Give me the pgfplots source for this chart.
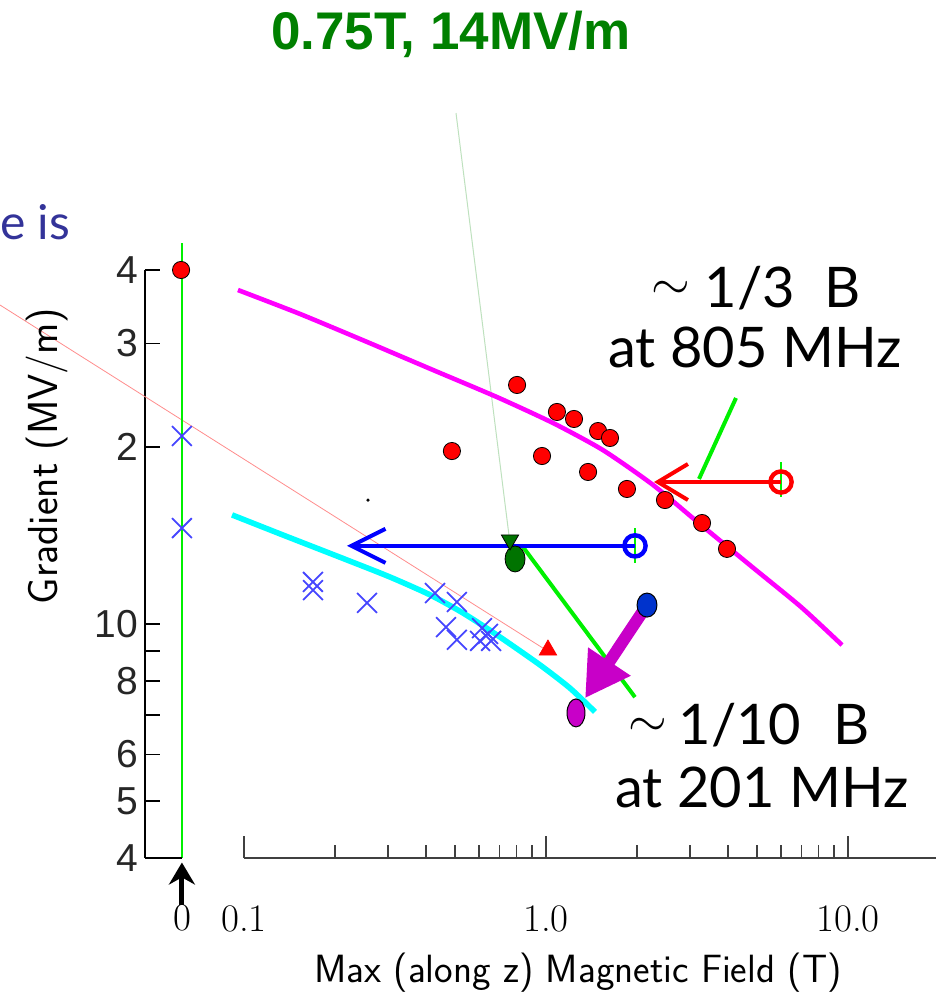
\documentclass[border=0pt]{standalone}
\usepackage{pgfplots}
\pgfplotsset{compat=1.18}
\usetikzlibrary{arrows.meta}
\usepackage{fontspec}
\newfontfamily\libsans{Liberation Sans}
\newfontfamily\lato{Lato}
\definecolor{magC}{RGB}{255,0,255}
\definecolor{cyaC}{RGB}{0,255,255}
\definecolor{grnC}{RGB}{0,240,0}
\definecolor{dgrnC}{RGB}{0,115,0}
\definecolor{bluC}{RGB}{0,0,255}
\definecolor{crossC}{RGB}{70,70,255}
\definecolor{purC}{RGB}{200,0,200}
\definecolor{bdotC}{RGB}{0,51,204}
\definecolor{eisC}{RGB}{51,51,153}
\definecolor{pinkC}{RGB}{255,140,140}
\definecolor{lgrnC}{RGB}{190,225,190}
\definecolor{txtgreen}{RGB}{0,128,0}
\begin{document}
\begin{tikzpicture}
\useasboundingbox (0,0) rectangle (468pt,497.5pt);
\begin{axis}[
  at={(72.5pt,68.5pt)}, anchor=south west,
  scale only axis, width=395.5pt, height=294pt,
  xmode=log, ymode=log,
  xmin=0.04701, xmax=19.56, ymin=4, ymax=40,
  clip=false,
  axis x line*=bottom, axis y line*=left,
  x axis line style={draw=none},
  y axis line style={-, line width=1pt, black},
  xtick pos=bottom, ytick pos=left,
  tick align=inside,
  xtick={0.1,1,10}, xticklabels={0.1,1.0,10.0},
  minor xtick={0.2,0.3,0.4,0.5,0.6,0.7,0.8,0.9,2,3,4,5,6,7,8,9},
  major tick length=11pt, minor tick length=6.5pt,
  x tick style={black!75, line width=0.7pt},
  xticklabel style={anchor=base, yshift=-37pt, font=\fontsize{19.5}{23}\selectfont},
  ytick=\empty,
  extra y ticks={4,5,6,7,8,9,10,20,30,40},
  extra y tick labels={4,5,6,,8,,10,2,3,4},
  extra y tick style={major tick length=7.5pt, tick style={black, line width=0.9pt}},
  yticklabel style={font=\libsans\fontsize{19.5}{22}\selectfont, text=black!85},
]
% thin pointer lines
\addplot[pinkC, line width=0.4pt] coordinates {(0.01556,34.88) (0.977,9.10)};
\addplot[lgrnC, line width=0.5pt] coordinates {(0.5035,73.96) (0.754,14.17)};
% zero-field line and axis pieces
\addplot[grnC, line width=1pt] coordinates {(0.0623,4) (0.0623,44.47)};
\addplot[black, line width=1pt] coordinates {(0.04701,4) (0.0623,4)};
\addplot[black!75, line width=0.8pt] coordinates {(0.1,4) (19.56,4)};
\addplot[black, line width=2.5pt, -{Stealth[length=11pt,width=13pt]}] coordinates {(0.0623,3.33) (0.0623,3.93)};
% fitted curves
\addplot[magC, line width=2.3pt, smooth, tension=0.4] coordinates {
 (0.0955,36.99) (0.1532,33.68) (0.2555,30.18) (0.4225,27.04) (0.688,24.32) (1.055,21.97)
 (1.544,19.76) (2.261,17.24) (3.235,14.79) (4.773,12.55) (6.989,10.69) (9.552,9.21)};
\addplot[cyaC, line width=2.8pt, smooth, tension=0.4] coordinates {
 (0.0913,15.33) (0.1346,14.17) (0.2193,12.85) (0.3044,12.02) (0.4130,11.21) (0.5311,10.44)
 (0.688,9.58) (0.955,8.52) (1.201,7.78) (1.453,7.09)};
% green projection lines
\addplot[grnC, line width=2pt] coordinates {(3.211,17.65) (4.257,24.23)};
\addplot[grnC, line width=2pt] coordinates {(0.839,13.52) (1.971,7.51)};
\addplot[grnC, line width=0.8pt] coordinates {(6.0,16.45) (6.0,18.86)};
\addplot[grnC, line width=0.8pt] coordinates {(1.971,12.70) (1.971,14.56)};
% 805 MHz data
\addplot[only marks, mark=*, mark size=4.3pt, mark options={draw=none, fill=red}] coordinates {
 (0.0619,40) (0.802,25.50) (0.488,19.69) (1.087,22.94) (1.238,22.32) (1.487,21.29) (1.629,20.72)
 (0.970,19.31) (1.378,18.14) (1.854,16.97) (2.477,16.25) (3.286,14.85) (3.975,13.42)};
% 201 MHz data
\addplot[only marks, mark=x, mark size=7pt, mark options={crossC, line width=0.9pt}] coordinates {
 (0.0623,20.88) (0.0623,14.56) (0.1692,11.79) (0.1692,11.42) (0.2555,10.86) (0.429,11.29)
 (0.507,10.90) (0.4665,9.88) (0.507,9.40) (0.614,9.84) (0.643,9.62) (0.605,9.36) (0.658,9.36)};
% arrows
\addplot[bluC, line width=2pt, -{Straight Barb[length=17pt,width=17pt]}] coordinates {(1.971,13.58) (0.2193,13.58)};
\addplot[red, line width=2pt, -{Straight Barb[length=15pt,width=18pt]}] coordinates {(6.0,17.44) (2.279,17.44)};
\addplot[only marks, mark=o, mark size=5.3pt, mark options={bluC, line width=2.2pt, fill=white}] coordinates {(1.971,13.58)};
\addplot[only marks, mark=o, mark size=5.3pt, mark options={red, line width=2.2pt, fill=white}] coordinates {(6.0,17.44)};
\addplot[purC, line width=6pt, -{Triangle[length=22pt,width=24pt]}] coordinates {(2.160,10.77) (1.347,7.48)};
% single points
\addplot[only marks, mark=triangle*, mark size=5pt, mark options={red, fill=red}] coordinates {(1.015,9.03)};
\addplot[only marks, mark=*, mark size=6.5pt, mark options={xscale=0.77, draw=none, fill=dgrnC}] coordinates {(0.790,12.90)};
\addplot[only marks, mark=triangle*, mark size=5pt, mark options={rotate=180, draw=none, fill=dgrnC}] coordinates {(0.760,13.90)};
\addplot[only marks, mark=*, mark size=6pt, mark options={xscale=0.83, draw=black, line width=0.5pt, fill=bdotC}] coordinates {(2.160,10.77)};
\addplot[only marks, mark=*, mark size=7pt, mark options={xscale=0.64, draw=black, line width=0.5pt, fill=purC}] coordinates {(1.257,7.06)};
\addplot[only marks, mark=*, mark size=0.6pt, black] coordinates {(0.2574,16.25)};
\end{axis}
\begin{scope}[x=0.5pt,y=-0.5pt,yshift=497.5pt]
\node[anchor=base, text=txtgreen, inner sep=0pt] at (451,50) {\libsans\bfseries\fontsize{26.5}{30}\selectfont 0.75T, 14MV/m};
\node[anchor=base west, text=eisC, inner sep=0pt] at (0,240) {\lato\fontsize{24}{28}\selectfont e is};
\node[anchor=base, inner sep=0pt] at (671,300) {\fontsize{28}{32}\selectfont $\sim$};
\node[anchor=base, inner sep=0pt] at (750,308) {\lato\fontsize{28}{32}\selectfont 1/3};
\node[anchor=base, inner sep=0pt] at (843,308) {\lato\fontsize{28}{32}\selectfont B};
\node[anchor=base, inner sep=0pt] at (755,368) {\lato\fontsize{28}{32}\selectfont at 805 MHz};
\node[anchor=base, inner sep=0pt] at (648,737) {\fontsize{28}{32}\selectfont $\sim$};
\node[anchor=base, inner sep=0pt] at (740,745) {\lato\fontsize{28}{32}\selectfont 1/10};
\node[anchor=base, inner sep=0pt] at (852,745) {\lato\fontsize{28}{32}\selectfont B};
\node[anchor=base, inner sep=0pt] at (762,808) {\lato\fontsize{28}{32}\selectfont at 201 MHz};
\node[rotate=90, anchor=center] at (47,456) {\sffamily\fontsize{21}{25}\selectfont Gradient (MV/m)};
\node[anchor=base] at (578,983) {\sffamily\fontsize{19.7}{23}\selectfont Max (along z) Magnetic Field (T)};
\node[anchor=base, inner sep=0pt] at (182,931) {\fontsize{19.5}{23}\selectfont 0};
\end{scope}
\end{tikzpicture}
\end{document}
